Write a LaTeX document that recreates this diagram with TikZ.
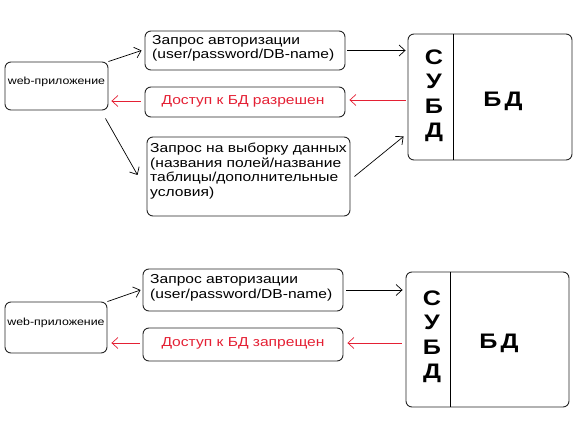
\documentclass[tikz,border=0pt]{standalone}
\usepackage{fontspec}
\setmainfont{Liberation Sans}[FakeStretch=1.2]
\usetikzlibrary{arrows.meta}
\definecolor{redt}{RGB}{228,32,52}
\begin{document}
\begin{tikzpicture}[x=1pt,y=-1pt,
  box/.style={draw=black!85, line width=0.9pt, rounded corners=6pt, inner sep=0pt},
  txt/.style={font=\fontsize{13}{14.5}\selectfont, inner sep=0pt},
  small/.style={font=\fontsize{10.3}{12}\selectfont, inner sep=0pt},
  arr/.style={-{Straight Barb[length=6pt,width=11pt]}, line width=0.7pt},
  rarr/.style={arr, draw=redt},
  bigt/.style={font=\bfseries\fontsize{21}{24.5}\selectfont, inner sep=0pt, align=center}]
\useasboundingbox (0,0) rectangle (581,422);
% ---------- top scenario ----------
\node[box, minimum width=103pt, minimum height=48pt] (w1) at (56.5,86) {};
\node[small] (w1t) at (56.5,82) {web-приложение};
\node[box, minimum width=200pt, minimum height=39pt] (a1) at (245,50.5) {};
\node[txt, align=left, anchor=west] (a1t) at (152,48.5) {Запрос авторизации\\(user/password/DB-name)};
\node[box, minimum width=200pt, minimum height=30pt] (r1) at (245,102) {};
\node[txt, text=redt] (r1t) at (243,101) {Доступ к БД разрешен};
\node[box, minimum width=203pt, minimum height=79pt] (q1) at (248.5,176.5) {};
\node[txt, align=left, anchor=north west] (q1t) at (150,143) {Запрос на выборку данных\\(названия полей/название\\таблицы/дополнительные\\условия)};
\node[box, minimum width=164pt, minimum height=126pt] (d1) at (490,97) {};
\draw[line width=0.9pt] ([xshift=46pt]d1.north west) -- ([xshift=46pt]d1.south west);
\node[bigt] (s1) at (434,96) {С\\У\\Б\\Д};
\node[bigt] (db1) at (503,101) {Б\kern3pt Д};
\draw[arr] (w1.north east) -- ([xshift=-3pt]a1.west);
\draw[arr] ([xshift=2pt]a1.east) -- ([xshift=-2pt]a1.east -| d1.west);
\draw[rarr] ([shift={(-2pt,2pt)}]r1.east -| d1.west) -- ([shift={(4pt,2pt)}]r1.east);
\draw[rarr] ([shift={(-4pt,1pt)}]r1.west) -- ([shift={(3pt,1pt)}]r1.west -| w1.east);
\draw[arr] ([shift={(-3pt,-8pt)}]w1.south east) -- ([shift={(-9pt,1.5pt)}]q1.west);
\draw[arr] ([shift={(4pt,0pt)}]q1.east) -- ([shift={(-4pt,40pt)}]q1.east -| d1.west);
% ---------- bottom scenario ----------
\node[box, minimum width=102pt, minimum height=51pt] (w2) at (56,327.5) {};
\node[small] (w2t) at (56,323) {web-приложение};
\node[box, minimum width=200pt, minimum height=42pt] (a2) at (243,290) {};
\node[txt, align=left, anchor=west] (a2t) at (150,288) {Запрос авторизации\\(user/password/DB-name)};
\node[box, minimum width=200pt, minimum height=33pt] (r2) at (243,344.5) {};
\node[txt, text=redt] (r2t) at (243,343) {Доступ к БД запрещен};
\node[box, minimum width=163pt, minimum height=135pt] (d2) at (487.5,339.5) {};
\draw[line width=0.9pt] ([xshift=45pt]d2.north west) -- ([xshift=45pt]d2.south west);
\node[bigt] (s2) at (432,337) {С\\У\\Б\\Д};
\node[bigt] (db2) at (499,343) {Б\kern3pt Д};
\draw[arr] (w2.north east) -- ([xshift=-2pt]a2.west);
\draw[arr] ([xshift=3pt]a2.east) -- ([xshift=-3pt]a2.east -| d2.west);
\draw[rarr] ([shift={(-4pt,1.5pt)}]r2.east -| d2.west) -- ([shift={(4pt,1.5pt)}]r2.east);
\draw[rarr] ([shift={(-3pt,1.5pt)}]r2.west) -- ([shift={(4pt,1.5pt)}]r2.west -| w2.east);
\end{tikzpicture}
\end{document}
